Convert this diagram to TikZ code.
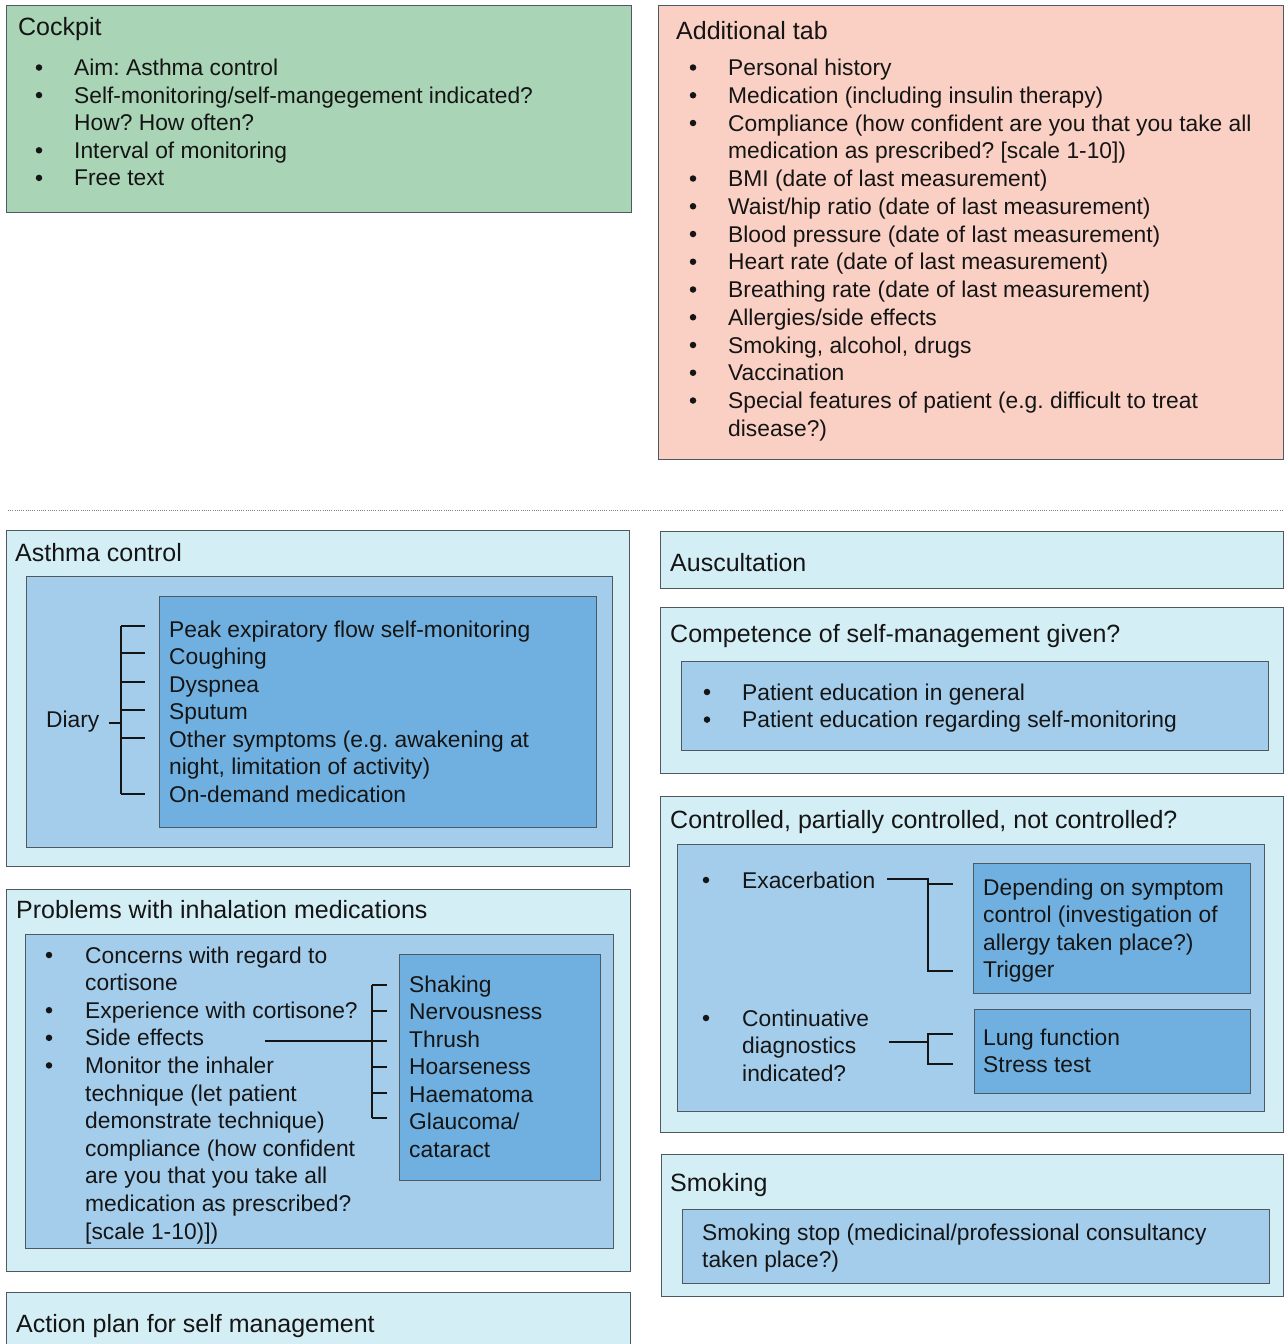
\documentclass[tikz,border=0pt]{standalone}
\usepackage{fontspec}
\setmainfont{Liberation Sans}
\frenchspacing
\definecolor{cgreen}{HTML}{A9D5B6}
\definecolor{csalmon}{HTML}{FBD0C4}
\definecolor{ccyan}{HTML}{D4EEF6}
\definecolor{cmid}{HTML}{A4CDEC}
\definecolor{cin}{HTML}{70B0E0}
\definecolor{cborder}{HTML}{4F5A60}
\definecolor{ctext}{HTML}{151515}
\newcommand\mainsz{\fontsize{22.8}{27.6}\selectfont}
\newcommand\titlesz{\fontsize{25}{30}\selectfont}
\tikzset{
  box/.style={draw=cborder, line width=1.4pt, anchor=north west, inner sep=0pt},
  txt/.style={anchor=base west, inner sep=0pt, font=\mainsz, text=ctext},
  ttl/.style={anchor=base west, inner sep=0pt, font=\titlesz, text=ctext},
  bul/.style={circle, fill=ctext, minimum size=6.5pt, inner sep=0pt, yshift=8pt},
  brk/.style={line width=1.6pt, draw=ctext},
}
\newcommand\boxat[6]{\node[box, fill=#2, minimum width={(#5-#3)*1pt}, minimum height={(#6-#4)*1pt}] (#1) at (#3,#4) {};}
\begin{document}
\begin{tikzpicture}[x=1pt,y=-1pt]
\useasboundingbox[fill=white] (0,0) rectangle (1284,1344);

% ---------------- Cockpit
\boxat{cockpit}{cgreen}{6}{5}{631}{212}
\node[ttl] (cockpitT) at (18,35) {Cockpit};
\foreach \t [count=\i] in {Aim: Asthma control, Self-monitoring/self-mangegement indicated?, How? How often?, Interval of monitoring, Free text}
  \node[txt] (cp\i) at (74,{75.5+(\i-1)*27.6}) {\t};
\foreach \i in {1,2,4,5}
  \node[bul] (cpb\i) at (39,{75.5+(\i-1)*27.6}) {};

% ---------------- Additional tab
\boxat{addtab}{csalmon}{658}{5}{1283}{459}
\node[ttl] (addT) at (676,39) {Additional tab};
\foreach \t [count=\i] in {Personal history, Medication (including insulin therapy), Compliance (how confident are you that you take all, {medication as prescribed? [scale 1-10])}, BMI (date of last measurement), Waist/hip ratio (date of last measurement), Blood pressure (date of last measurement), Heart rate (date of last measurement), Breathing rate (date of last measurement), Allergies/side effects, {Smoking, alcohol, drugs}, Vaccination, Special features of patient (e.g. difficult to treat, disease?)}
  \node[txt] (at\i) at (728,{75.5+(\i-1)*27.75}) {\t};
\foreach \i in {1,2,3,5,6,7,8,9,10,11,12,13}
  \node[bul] (atb\i) at (693,{75.5+(\i-1)*27.75}) {};

% ---------------- separator
\draw[gray, line width=0.9pt, dash pattern=on 1pt off 1.2pt] (8,510) -- (1284,510);

% ---------------- Asthma control
\boxat{acout}{ccyan}{6}{530}{629}{866}
\boxat{acmid}{cmid}{26}{576}{612}{847}
\boxat{acin}{cin}{159}{596}{596}{827}
\node[ttl] (acT) at (15,561) {Asthma control};
\foreach \t [count=\i] in {Peak expiratory flow self-monitoring, Coughing, Dyspnea, Sputum, Other symptoms (e.g. awakening at, {night, limitation of activity)}, On-demand medication}
  \node[txt] (ac\i) at (169,{637+(\i-1)*27.5}) {\t};
\node[txt] (diary) at (46,727) {Diary};
\coordinate (dj) at (121,723);
\draw[brk] ([xshift=9pt]diary.east |- dj) -- (dj);
\draw[brk] (121,626) -- (121,794);
\foreach \y in {626,653,682,710,738,794}
  \draw[brk] (121,\y) -- (145,\y);

% ---------------- Problems with inhalation medications
\boxat{plout}{ccyan}{6}{889}{630}{1271}
\boxat{plmid}{cmid}{25}{934}{613}{1248}
\boxat{plin}{cin}{399}{954}{600}{1180}
\node[ttl] (plT) at (16,918) {Problems with inhalation medications};
\foreach \t [count=\i] in {Concerns with regard to, cortisone, Experience with cortisone?, Side effects, Monitor the inhaler, technique (let patient, demonstrate technique), compliance (how confident, are you that you take all, medication as prescribed?, {[scale 1-10)])}}
  \node[txt] (pl\i) at (85,{963+(\i-1)*27.6}) {\t};
\foreach \i in {1,3,4,5}
  \node[bul] (plb\i) at (49,{963+(\i-1)*27.6}) {};
\foreach \t [count=\i] in {Shaking, Nervousness, Thrush, Hoarseness, Haematoma, Glaucoma/, cataract}
  \node[txt] (pr\i) at (409,{992+(\i-1)*27.5}) {\t};
\coordinate (sej) at (372,1041);
\draw[brk] (265,1041) -- (sej) -- (387,1041);
\draw[brk] (372,985) -- (372,1118);
\foreach \y in {985,1011,1067,1093,1118}
  \draw[brk] (372,\y) -- (387,\y);

% ---------------- Action plan
\boxat{apout}{ccyan}{6}{1292}{630}{1362}
\node[ttl] (apT) at (16,1332) {Action plan for self management};

% ---------------- Auscultation
\boxat{auout}{ccyan}{660}{531}{1283}{588}
\node[ttl] (auT) at (670,571) {Auscultation};

% ---------------- Competence
\boxat{coout}{ccyan}{660}{607}{1283}{773}
\boxat{comid}{cmid}{681}{661}{1268}{750}
\node[ttl] (coT) at (670,642) {Competence of self-management given?};
\foreach \t [count=\i] in {Patient education in general, Patient education regarding self-monitoring}
  \node[txt] (co\i) at (742,{700+(\i-1)*27.6}) {\t};
\foreach \i in {1,2}
  \node[bul] (cob\i) at (707,{700+(\i-1)*27.6}) {};

% ---------------- Controlled
\boxat{ctout}{ccyan}{660}{796}{1283}{1132}
\boxat{ctmid}{cmid}{677}{844}{1264}{1111}
\boxat{ctin1}{cin}{973}{863}{1250}{993}
\boxat{ctin2}{cin}{974}{1009}{1250}{1093}
\node[ttl] (ctT) at (670,828) {Controlled, partially controlled, not controlled?};
\node[txt] (exa) at (742,888) {Exacerbation};
\node[bul] (exab) at (706,888) {};
\foreach \t [count=\i] in {Continuative, diagnostics, indicated?}
  \node[txt] (cd\i) at (742,{1026+(\i-1)*27.6}) {\t};
\node[bul] (cdb) at (706,1026) {};
\foreach \t [count=\i] in {Depending on symptom, control (investigation of, allergy taken place?), Trigger}
  \node[txt] (dp\i) at (983,{895+(\i-1)*27.5}) {\t};
\foreach \t [count=\i] in {Lung function, Stress test}
  \node[txt] (lf\i) at (983,{1045+(\i-1)*27.5}) {\t};
\coordinate (exj) at (928,879);
\draw[brk] ([xshift=12pt]exa.east |- exj) -- (exj) -- (928,971) -- (953,971);
\draw[brk] (928,884) -- (953,884);
\coordinate (cdj) at (928,1042);
\draw[brk] (889,1042) -- (cdj);
\draw[brk] (953,1034) -- (928,1034) -- (928,1064) -- (953,1064);

% ---------------- Smoking
\boxat{smout}{ccyan}{661}{1154}{1283}{1296}
\boxat{smin}{cmid}{682}{1209}{1269}{1283}
\node[ttl] (smT) at (670,1191) {Smoking};
\foreach \t [count=\i] in {Smoking stop (medicinal/professional consultancy, taken place?)}
  \node[txt] (sm\i) at (702,{1240+(\i-1)*27.6}) {\t};
\end{tikzpicture}
\end{document}
